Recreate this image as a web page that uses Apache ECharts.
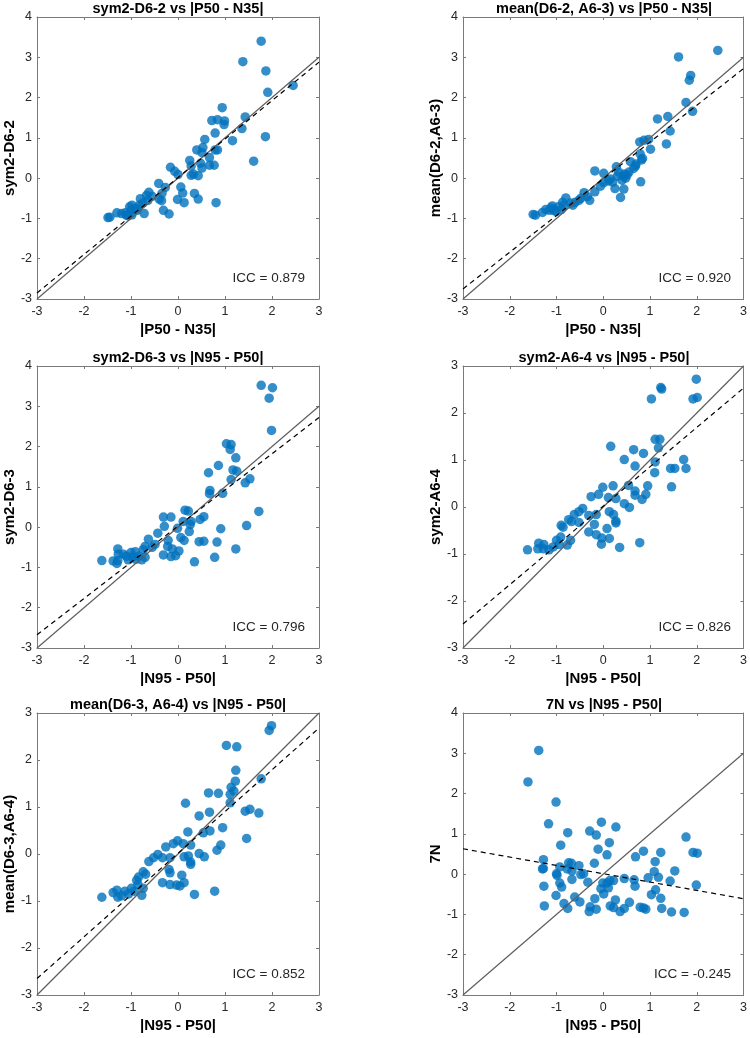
<!DOCTYPE html>
<html>
<head>
<meta charset="utf-8">
<script src="https://cdn.jsdelivr.net/npm/echarts@6.0.0/dist/echarts.min.js"></script>
<style>
  html, body { margin: 0; padding: 0; background: #fff; }
  #chart { width: 750px; height: 1038px; }
</style>
</head>
<body>
<div id="chart"></div>
<script>
var titles = [
  'sym2-D6-2 vs |P50 - N35|',
  'mean(D6-2, A6-3) vs |P50 - N35|',
  'sym2-D6-3 vs |N95 - P50|',
  'sym2-A6-4 vs |N95 - P50|',
  'mean(D6-3, A6-4) vs |N95 - P50|',
  '7N vs |N95 - P50|'
];
var xNames = ['|P50 - N35|', '|P50 - N35|', '|N95 - P50|', '|N95 - P50|', '|N95 - P50|', '|N95 - P50|'];
var yNames = ['sym2-D6-2', 'mean(D6-2,A6-3)', 'sym2-D6-3', 'sym2-A6-4', 'mean(D6-3,A6-4)', '7N'];
var iccLabels = ['ICC = 0.879', 'ICC = 0.920', 'ICC = 0.796', 'ICC = 0.826', 'ICC = 0.852', 'ICC = -0.245'];
var yMaxes = [4, 4, 4, 3, 3, 4];
var identityLine = [[-3, -3], [3, 3]];
var fitLines = [
  [[-3, -2.85], [3, 2.88]],
  [[-3, -2.75], [3, 2.72]],
  [[-3, -2.67], [3, 2.72]],
  [[-3, -2.49], [3, 2.53]],
  [[-3, -2.65], [3, 2.68]],
  [[-3, 0.63], [3, -0.61]]
];

var pts1 = [
  [1.77, 3.40], [1.38, 2.89], [1.87, 2.66], [1.91, 2.13], [2.45, 2.30], [0.94, 1.75], [0.72, 1.43], [0.84, 1.45],
  [0.99, 1.42], [0.98, 1.33], [1.43, 1.52], [1.36, 1.23], [1.86, 1.03], [0.79, 1.12], [1.16, 0.93], [0.57, 0.96],
  [0.40, 0.70], [0.53, 0.76], [0.79, 0.70], [0.84, 0.70], [1.61, 0.42], [0.51, 0.63], [0.67, 0.51], [0.25, 0.44],
  [0.48, 0.37], [0.67, 0.32], [0.77, 0.32], [0.28, 0.30], [-0.16, 0.27], [0.51, 0.25], [-0.07, 0.17], [0.00, 0.09],
  [0.33, 0.10], [0.28, 0.07], [0.43, 0.06], [-0.41, -0.13], [-0.27, -0.23], [0.06, -0.22], [0.10, -0.37],
  [-0.62, -0.35], [-0.34, -0.38], [0.35, -0.38], [0.43, -0.52], [-0.01, -0.53], [0.13, -0.61], [0.81, -0.61],
  [-0.67, -0.43], [-0.80, -0.51], [-0.35, -0.56], [-0.40, -0.52], [-0.31, -0.80], [-0.19, -0.89], [-0.98, -0.67],
  [-1.03, -0.71], [-0.87, -0.80], [-0.72, -0.88], [-1.12, -0.86], [-1.30, -0.86], [-1.20, -0.88], [-1.49, -0.98],
  [-1.45, -0.97], [-1.06, -0.94], [-0.98, -0.91], [-0.82, -0.67], [-0.64, -0.55], [-0.90, -0.75], [-1.00, -0.80],
  [-1.10, -0.92], [-0.75, -0.62], [-0.55, -0.45]
];
var pts2 = [
  [2.45, 3.17], [1.61, 3.01], [1.87, 2.55], [1.84, 2.43], [1.77, 1.88], [1.91, 1.66], [1.16, 1.47], [1.38, 1.53],
  [1.43, 1.17], [1.35, 0.85], [0.78, 0.90], [0.87, 0.94], [0.97, 0.96], [1.01, 0.72], [0.79, 0.60], [0.84, 0.49],
  [0.82, 0.45], [0.58, 0.41], [0.69, 0.30], [0.65, 0.24], [0.28, 0.28], [-0.18, 0.18], [0.01, 0.12], [0.33, 0.15],
  [0.44, 0.05], [0.51, 0.08], [0.55, 0.15], [0.40, -0.05], [0.11, -0.07], [0.01, -0.11], [-0.06, -0.20],
  [0.25, -0.26], [0.44, -0.27], [0.80, -0.09], [0.37, -0.48], [-0.34, -0.46], [-0.29, -0.55], [-0.41, -0.36],
  [-0.18, -0.34], [-0.80, -0.49], [-0.87, -0.60], [-0.65, -0.67], [-0.70, -0.62], [-0.84, -0.67], [-0.96, -0.71],
  [-1.09, -0.69], [-1.12, -0.74], [-1.23, -0.78], [-1.30, -0.85], [-1.50, -0.90], [-1.45, -0.92], [-1.01, -0.83],
  [-1.06, -0.80], [-0.52, -0.55], [-0.48, -0.50], [0.15, -0.02], [0.30, 0.05], [0.48, 0.00], [0.20, -0.10],
  [-0.60, -0.60], [-0.90, -0.78], [-1.15, -0.80], [0.70, 0.35], [0.45, 0.10]
];
var pts3 = [
  [1.77, 3.52], [2.01, 3.46], [1.94, 3.20], [1.99, 2.40], [1.03, 2.07], [1.13, 2.05], [1.11, 1.93], [1.23, 1.72],
  [0.86, 1.53], [1.17, 1.42], [1.25, 1.39], [0.65, 1.35], [1.13, 1.18], [1.53, 1.20], [1.43, 1.10], [0.68, 0.91],
  [0.67, 0.83], [0.95, 0.84], [1.72, 0.39], [0.15, 0.42], [0.22, 0.40], [-0.31, 0.25], [-0.15, 0.25], [0.47, 0.19],
  [0.55, 0.26], [0.11, 0.14], [0.28, 0.14], [0.26, 0.06], [1.46, 0.04], [-0.29, 0.02], [-0.01, -0.03],
  [0.91, -0.04], [0.24, -0.11], [-0.43, -0.15], [0.06, -0.26], [0.13, -0.33], [-0.21, -0.33], [-0.63, -0.30],
  [0.45, -0.36], [0.55, -0.35], [0.83, -0.37], [1.23, -0.54], [-0.70, -0.48], [-0.74, -0.56], [-0.49, -0.43],
  [-0.22, -0.48], [-0.12, -0.54], [0.02, -0.59], [-0.31, -0.69], [-0.15, -0.73], [-0.05, -0.71], [0.78, -0.75],
  [0.35, -0.86], [-1.28, -0.54], [-1.27, -0.67], [-1.16, -0.67], [-1.00, -0.63], [-0.91, -0.61], [-0.97, -0.75],
  [-0.84, -0.72], [-0.70, -0.75], [-1.62, -0.83], [-1.38, -0.84], [-1.28, -0.83], [-1.30, -0.90], [-1.06, -0.81],
  [-0.77, -0.81], [-0.90, -0.80], [-1.10, -0.72], [-0.55, -0.50]
];
var pts4 = [
  [1.99, 2.72], [1.23, 2.54], [1.25, 2.51], [1.03, 2.30], [1.92, 2.30], [2.01, 2.33], [1.11, 1.44], [1.21, 1.44],
  [1.18, 1.26], [0.16, 1.29], [0.65, 1.22], [0.86, 1.14], [0.45, 1.01], [1.72, 1.01], [1.11, 0.96], [0.68, 0.87],
  [1.44, 0.82], [1.53, 0.82], [1.77, 0.82], [1.10, 0.73], [-0.01, 0.42], [0.21, 0.45], [0.54, 0.46], [0.95, 0.45],
  [1.46, 0.43], [-0.26, 0.22], [-0.10, 0.27], [0.11, 0.20], [0.27, 0.18], [0.68, 0.34], [0.68, 0.25], [0.91, 0.27],
  [0.83, 0.16], [0.45, 0.07], [0.56, -0.01], [-0.44, -0.03], [-0.52, -0.10], [-0.62, -0.16], [-0.31, -0.18],
  [-0.15, -0.16], [0.13, -0.10], [0.22, -0.16], [0.27, -0.30], [0.27, -0.34], [-0.74, -0.27], [-0.68, -0.31],
  [-0.90, -0.39], [-0.86, -0.43], [-0.19, -0.37], [-0.52, -0.33], [0.08, -0.46], [-0.31, -0.53], [-0.15, -0.59],
  [-0.03, -0.66], [0.13, -0.67], [-0.04, -0.79], [0.35, -0.86], [0.78, -0.76], [-0.91, -0.64], [-0.70, -0.71],
  [-1.00, -0.71], [-0.95, -0.80], [-0.77, -0.81], [-1.38, -0.77], [-1.27, -0.80], [-1.28, -0.89], [-1.16, -0.91],
  [-1.62, -0.91], [-1.40, -0.89], [-1.07, -0.85]
];
var pts5 = [
  [1.99, 2.73], [1.94, 2.63], [1.03, 2.31], [1.25, 2.28], [1.23, 1.78], [1.22, 1.55], [1.13, 1.42], [1.19, 1.34],
  [1.11, 1.27], [0.65, 1.30], [0.86, 1.29], [0.16, 1.08], [1.77, 1.60], [1.11, 1.09], [1.43, 0.91], [1.53, 0.95],
  [1.72, 0.87], [0.45, 0.81], [0.67, 0.89], [0.95, 0.56], [0.68, 0.49], [0.54, 0.45], [0.21, 0.47], [1.46, 0.33],
  [-0.01, 0.28], [0.91, 0.19], [-0.10, 0.22], [-0.26, 0.15], [0.11, 0.22], [0.27, 0.19], [0.83, 0.08], [0.45, 0.01],
  [0.56, -0.06], [0.13, -0.06], [0.22, -0.04], [0.27, -0.17], [0.27, -0.22], [-0.17, -0.08], [-0.33, -0.08],
  [-0.43, -0.01], [-0.52, -0.08], [-0.62, -0.16], [-0.19, -0.33], [-0.17, -0.40], [-0.74, -0.38], [-0.69, -0.43],
  [0.08, -0.45], [-0.88, -0.56], [-0.84, -0.49], [-0.33, -0.61], [-0.17, -0.65], [-0.03, -0.66], [0.04, -0.68],
  [0.13, -0.61], [0.78, -0.79], [0.35, -0.86], [-0.99, -0.73], [-0.74, -0.73], [-0.93, -0.79], [-1.13, -0.79],
  [-1.30, -0.77], [-1.38, -0.82], [-1.28, -0.92], [-1.20, -0.89], [-1.62, -0.92], [-0.77, -0.88], [-1.05, -0.85],
  [-0.85, -0.65]
];
var pts6 = [
  [-1.38, 3.07], [-1.61, 2.29], [-1.01, 1.79], [-1.17, 1.25], [-0.04, 1.29], [0.27, 1.17], [-0.76, 1.03],
  [-0.29, 1.07], [-0.15, 0.97], [1.77, 0.92], [0.13, 0.78], [-0.91, 0.72], [-0.11, 0.62], [0.08, 0.48], [0.86, 0.57],
  [1.23, 0.54], [0.69, 0.43], [1.92, 0.54], [2.01, 0.52], [-1.28, 0.36], [-0.74, 0.28], [-0.68, 0.27], [-0.19, 0.27],
  [-0.52, 0.21], [-0.93, 0.18], [1.11, 0.31], [-1.30, 0.13], [-1.28, 0.14], [-1.00, 0.01], [-0.99, -0.03],
  [-0.77, 0.13], [-0.67, 0.08], [-0.42, 0.01], [-0.48, -0.01], [1.09, 0.06], [1.53, 0.08], [1.18, -0.08],
  [0.96, -0.09], [0.45, -0.11], [0.66, -0.14], [0.22, -0.16], [0.14, -0.16], [0.08, -0.22], [-0.01, -0.22],
  [1.99, -0.27], [1.43, -0.17], [0.68, -0.30], [-0.93, -0.22], [-0.33, -0.20], [-0.67, -0.13], [-1.27, -0.30],
  [-0.89, -0.32], [-0.05, -0.36], [0.11, -0.34], [1.12, -0.39], [0.01, -0.49], [1.03, -0.51], [1.23, -0.60],
  [-1.01, -0.53], [-0.61, -0.57], [-0.18, -0.61], [-0.84, -0.73], [-0.50, -0.69], [0.26, -0.64], [0.56, -0.70],
  [-1.26, -0.79], [-0.76, -0.85], [-0.28, -0.81], [-0.15, -0.87], [-0.30, -0.93], [0.15, -0.79], [0.22, -0.83],
  [0.36, -0.93], [0.45, -0.85], [0.79, -0.82], [0.86, -0.84], [0.91, -0.87], [1.25, -0.85], [1.46, -0.94],
  [1.73, -0.95]
];
var panels = [pts1, pts2, pts3, pts4, pts5, pts6];

var colLeft = [37, 463];
var rowTop = [17, 366, 713];
var plotW = 282, plotH = 282;
var font = 'Liberation Sans, Arial, Helvetica, sans-serif';
var boxColor = '#7a7a7a';
var textColor = '#262626';

var chart = echarts.init(document.getElementById('chart'), null, { renderer: 'canvas' });

var grids = [], xAxes = [], yAxes = [], series = [], graphics = [];

panels.forEach(function (pts, i) {
  var col = i % 2, row = Math.floor(i / 2);
  var left = colLeft[col], top = rowTop[row];
  grids.push({ left: left, top: top, width: plotW, height: plotH });

  var lineStyle = { color: boxColor, width: 1 };
  var baseX = {
    gridIndex: i, type: 'value', min: -3, max: 3, interval: 1,
    axisLine: { show: true, onZero: false, lineStyle: lineStyle },
    axisTick: { show: true, inside: true, length: 3, lineStyle: lineStyle },
    splitLine: { show: false }
  };
  xAxes.push(Object.assign({}, baseX, {
    position: 'bottom',
    axisLabel: { color: textColor, fontSize: 12.5, fontFamily: font, margin: 6 },
    name: xNames[i], nameLocation: 'middle', nameGap: 23,
    nameTextStyle: { color: '#000', fontWeight: 'bold', fontSize: 15, fontFamily: font }
  }));
  xAxes.push(Object.assign({}, baseX, { position: 'top', axisLabel: { show: false } }));

  var baseY = {
    gridIndex: i, type: 'value', min: -3, max: yMaxes[i], interval: 1,
    axisLine: { show: true, onZero: false, lineStyle: lineStyle },
    axisTick: { show: true, inside: true, length: 3, lineStyle: lineStyle },
    splitLine: { show: false }
  };
  yAxes.push(Object.assign({}, baseY, {
    position: 'left',
    axisLabel: { color: textColor, fontSize: 12.5, fontFamily: font, margin: 5 },
    name: yNames[i], nameLocation: 'middle', nameGap: 16,
    nameTextStyle: { color: '#000', fontWeight: 'bold', fontSize: 15, fontFamily: font }
  }));
  yAxes.push(Object.assign({}, baseY, { position: 'right', axisLabel: { show: false } }));

  series.push({
    type: 'scatter', xAxisIndex: 2 * i, yAxisIndex: 2 * i,
    data: pts, symbol: 'circle', symbolSize: 9.5,
    itemStyle: { color: '#0072BD', opacity: 0.8 },
    z: 2
  });
  series.push({
    type: 'line', xAxisIndex: 2 * i, yAxisIndex: 2 * i,
    data: identityLine, symbol: 'none',
    lineStyle: { color: '#5e5e5e', width: 1.2 },
    z: 3
  });
  series.push({
    type: 'line', xAxisIndex: 2 * i, yAxisIndex: 2 * i,
    data: fitLines[i], symbol: 'none',
    lineStyle: { color: '#000', width: 1.2, type: [5, 4] },
    z: 4
  });

  graphics.push({
    type: 'text', x: left + plotW / 2, y: top - 8,
    style: {
      text: titles[i], fill: '#000', font: 'bold 14.5px ' + font,
      align: 'center', verticalAlign: 'middle', textAlign: 'center', textVerticalAlign: 'middle'
    }
  });
  graphics.push({
    type: 'text', x: left + plotW - 14, y: top + plotH - 21,
    style: {
      text: iccLabels[i], fill: textColor, font: '13.5px ' + font,
      align: 'right', verticalAlign: 'middle', textAlign: 'right', textVerticalAlign: 'middle'
    }
  });
});

chart.setOption({
  animation: false,
  backgroundColor: '#fff',
  grid: grids,
  xAxis: xAxes,
  yAxis: yAxes,
  series: series,
  graphic: graphics
});
window.addEventListener('resize', function () { chart.resize(); });
</script>
</body>
</html>
